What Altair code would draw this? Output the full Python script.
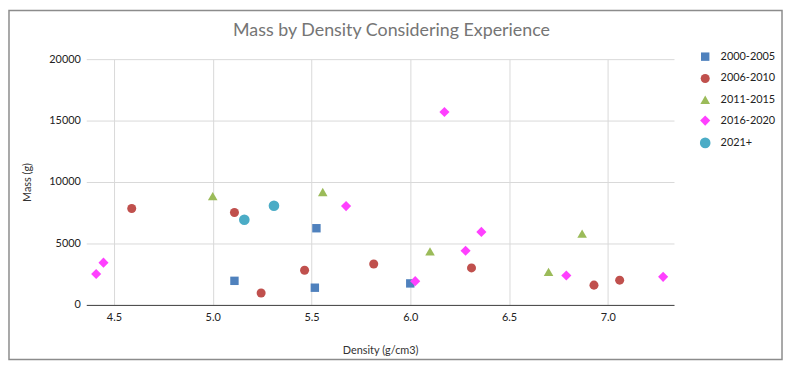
import altair as alt
import pandas as pd

groups = ["2000-2005", "2006-2010", "2011-2015", "2016-2020", "2021+"]
colors = ["#4f81bd", "#c0504d", "#9bbb59", "#ff40ff", "#4bacc6"]
shapes = ["square", "circle", "triangle-up", "diamond", "circle"]
sizes = [72, 115, 100, 72, 115]

density_2000 = [5.11, 5.525, 5.517, 6.00]
mass_2000 = [1960, 6240, 1400, 1750]

density_2006 = [4.59, 5.11, 5.245, 5.465, 5.815, 6.31, 6.93, 7.06]
mass_2006 = [7850, 7520, 970, 2820, 3330, 3010, 1610, 2015]

density_2011 = [5.00, 5.557, 6.10, 6.70, 6.87]
mass_2011 = [8850, 9190, 4355, 2690, 5800]

density_2016 = [4.41, 4.447, 5.675, 6.025, 6.173, 6.28, 6.36, 6.79, 7.28]
mass_2016 = [2520, 3440, 8040, 1935, 15700, 4410, 5940, 2390, 2285]

density_2021 = [5.16, 5.31]
mass_2021 = [6935, 8065]

x_ticks = [4.5, 5.0, 5.5, 6.0, 6.5, 7.0]
y_ticks = [0, 5000, 10000, 15000, 20000]
title_text = ["Mass by Density Considering Experience"]

rows = []
for g, ds, ms in zip(groups,
                     [density_2000, density_2006, density_2011, density_2016, density_2021],
                     [mass_2000, mass_2006, mass_2011, mass_2016, mass_2021]):
    for d, m in zip(ds, ms):
        rows.append({"Density": d, "Mass": m, "Group": g})
df = pd.DataFrame(rows)

FONT = "Lato"
W, H = 593, 248

points = alt.Chart(df).mark_point(filled=True, opacity=1, strokeWidth=0).encode(
    x=alt.X("Density:Q",
            scale=alt.Scale(domain=[4.36, 7.335], nice=False, zero=False),
            axis=alt.Axis(values=x_ticks, format=".1f", title="Density (g/cm3)",
                          grid=True, ticks=False, domain=True, domainColor="#404040",
                          labelPadding=7, titlePadding=22)),
    y=alt.Y("Mass:Q",
            scale=alt.Scale(domain=[0, 20000], nice=False),
            axis=alt.Axis(values=y_ticks, format="d", title="Mass (g)",
                          grid=True, ticks=False, domain=False,
                          labelPadding=6, titlePadding=16)),
    color=alt.Color("Group:N", scale=alt.Scale(domain=groups, range=colors),
                    legend=alt.Legend(title=None, orient="none", legendX=618, legendY=-8,
                                      labelFontSize=11, labelFont=FONT, labelColor="#222222",
                                      rowPadding=10, labelOffset=9, padding=0)),
    shape=alt.Shape("Group:N", scale=alt.Scale(domain=groups, range=shapes)),
    size=alt.Size("Group:N", scale=alt.Scale(domain=groups, range=sizes)),
)

title = alt.Chart(pd.DataFrame({"t": title_text})).mark_text(
    font=FONT, fontSize=18, color="#757575", align="center", baseline="middle"
).encode(text="t:N", x=alt.value(308), y=alt.value(-28))

frame = alt.Chart(pd.DataFrame({"a": [0]})).mark_rect(
    fill="transparent", stroke="#8c8c8c", strokeWidth=1.5
).encode(x=alt.value(-78), x2=alt.value(702), y=alt.value(-49), y2=alt.value(303))

chart = alt.layer(points, title, frame).properties(
    width=W, height=H,
    autosize=alt.AutoSizeParams(type="none"),
    padding={"left": 79, "top": 50, "right": 110, "bottom": 56},
).configure_view(stroke=None).configure_axis(
    gridColor="#d9d9d9", labelFont=FONT, titleFont=FONT, labelFontSize=11,
    titleFontSize=11, titleFontWeight="normal", labelColor="#222222", titleColor="#333333"
)

chart.save("out.html", embed_options={"renderer": "svg", "actions": False})
